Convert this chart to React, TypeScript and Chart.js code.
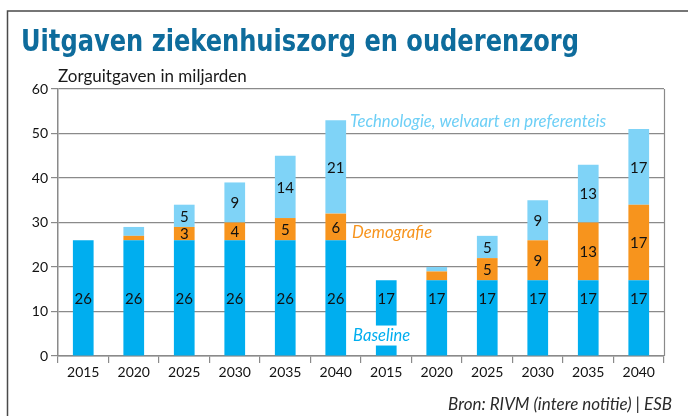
import React, { useEffect, useRef } from 'react';
import { Chart, registerables } from 'chart.js';

Chart.register(...registerables);

// ---- data ----
const categories = ['2015', '2020', '2025', '2030', '2035', '2040', '2015', '2020', '2025', '2030', '2035', '2040'];
const baseline = [26, 26, 26, 26, 26, 26, 17, 17, 17, 17, 17, 17];
const demografie = [0, 1, 3, 4, 5, 6, 0, 2, 5, 9, 13, 17];
const technologie = [0, 2, 5, 9, 14, 21, 0, 1, 5, 9, 13, 17];
const yTicks = [0, 10, 20, 30, 40, 50, 60];

const seriesNames = ['Baseline', 'Demografie', 'Technologie, welvaart en preferenteis'];
const TITLE = 'Uitgaven ziekenhuiszorg en ouderenzorg';
const SUBTITLE = 'Zorguitgaven in miljarden';
const SOURCE = 'Bron: RIVM (intere notitie) | ESB';

// ---- styles ----
const C_BASE = '#00AEEF';
const C_DEMO = '#F7941D';
const C_TECH = '#7FD3F7';
const C_TECH_TEXT = '#6DCFF6';
const C_TITLE = '#0E6C9C';
const GRID = '#8A8A8A';
const FONT = 'Lato, "Noto Sans", sans-serif';

const decorPlugin = {
  id: 'decor',
  afterDatasetsDraw(chart: any) {
    const ctx = chart.ctx as CanvasRenderingContext2D;
    const ys = chart.scales.y;
    ctx.save();
    ctx.font = `15px ${FONT}`;
    ctx.fillStyle = '#111';
    ctx.textAlign = 'center';
    ctx.textBaseline = 'middle';
    const baseMid = ys.getPixelForValue(Math.max(...baseline) / 2);
    chart.data.datasets.forEach((ds: any, di: number) => {
      const meta = chart.getDatasetMeta(di);
      meta.data.forEach((bar: any, i: number) => {
        const v = ds.data[i] as number;
        if (v < 3) return;
        const p = bar.getProps(['x', 'y', 'base'], true);
        const cy = di === 0 ? baseMid : (p.y + p.base) / 2;
        ctx.fillText(String(v), p.x, cy + 1);
      });
    });
    ctx.restore();
  },
  afterDraw(chart: any) {
    const ctx = chart.ctx as CanvasRenderingContext2D;
    const xs = chart.scales.x;
    const ys = chart.scales.y;
    const area = chart.chartArea;
    const W = chart.width;
    const H = chart.height;
    ctx.save();

    // outer frame (top + left)
    ctx.strokeStyle = '#4a4a4a';
    ctx.lineWidth = 1.5;
    ctx.beginPath();
    ctx.moveTo(W, 11);
    ctx.lineTo(7.5, 11);
    ctx.lineTo(7.5, H);
    ctx.stroke();

    // right border of plot area
    ctx.strokeStyle = GRID;
    ctx.lineWidth = 1.2;
    ctx.beginPath();
    ctx.moveTo(area.right + 0.5, area.top);
    ctx.lineTo(area.right + 0.5, area.bottom);
    ctx.stroke();

    // title
    ctx.fillStyle = C_TITLE;
    ctx.textAlign = 'left';
    ctx.textBaseline = 'alphabetic';
    ctx.font = `bold 30px "Liberation Sans Narrow", "DejaVu Sans Condensed", "DejaVu Sans", sans-serif`;
    ctx.fillText(TITLE, 21, 51, 558);

    // subtitle
    ctx.fillStyle = '#1a1a1a';
    ctx.font = `17px ${FONT}`;
    ctx.fillText(SUBTITLE, 58, 82, 193);

    // series annotations
    const meta0 = chart.getDatasetMeta(0);
    const b5 = meta0.data[5];
    const barW = b5.width;
    const annX = xs.getPixelForValue(5) + barW / 2 + 4;
    ctx.textBaseline = 'middle';
    ctx.font = `italic 17px ${FONT}`;

    ctx.fillStyle = C_TECH_TEXT;
    ctx.fillText(seriesNames[2], annX, ys.getPixelForValue(52.8), 256);

    ctx.fillStyle = C_DEMO;
    ctx.fillText(seriesNames[1], annX + 2, ys.getPixelForValue(27.7), 80);

    const by = ys.getPixelForValue(4.6);
    ctx.fillStyle = '#ffffff';
    ctx.fillRect(annX, by - 10, 62, 20);
    ctx.fillStyle = C_BASE;
    ctx.fillText(seriesNames[0], annX + 3, by, 57);

    // source
    ctx.fillStyle = '#2a2a2a';
    ctx.textAlign = 'right';
    ctx.font = `italic 17px ${FONT}`;
    ctx.fillText(SOURCE, 672, 405, 227);

    ctx.restore();
  },
};

export default function App() {
  const ref = useRef<HTMLCanvasElement>(null);
  useEffect(() => {
    const canvas = ref.current!;
    const chart = new Chart(canvas, {
      type: 'bar',
      data: {
        labels: categories,
        datasets: [
          { label: seriesNames[0], data: baseline, backgroundColor: C_BASE },
          { label: seriesNames[1], data: demografie, backgroundColor: C_DEMO },
          { label: seriesNames[2], data: technologie, backgroundColor: C_TECH },
        ],
      },
      options: {
        responsive: false,
        animation: false,
        events: [],
        layout: { padding: { top: 89, right: 24, left: 0, bottom: 0 } },
        plugins: { legend: { display: false }, tooltip: { enabled: false }, title: { display: false } },
        datasets: { bar: { categoryPercentage: 1, barPercentage: 0.41 } },
        scales: {
          x: {
            stacked: true,
            grid: { offset: true, drawOnChartArea: false, tickLength: 7, color: GRID, lineWidth: 1.2 },
            border: { color: GRID, width: 1.5 },
            ticks: { font: { family: FONT, size: 14 }, color: '#111', padding: 1, autoSkip: false, maxRotation: 0 },
            afterFit: (s: any) => { s.height = 60; },
          },
          y: {
            stacked: true,
            min: 0,
            max: 60,
            z: 1,
            afterBuildTicks: (s: any) => { s.ticks = yTicks.map((v) => ({ value: v })); },
            grid: { color: GRID, tickLength: 7, lineWidth: 1.2 },
            border: { color: GRID, width: 1.5 },
            ticks: { font: { family: FONT, size: 14 }, color: '#111', padding: 3 },
            afterFit: (s: any) => { s.width = 58; },
          },
        },
      },
      plugins: [decorPlugin],
    } as any);
    return () => chart.destroy();
  }, []);

  return (
    <div style={{ position: 'absolute', left: 0, top: 0, width: 688, height: 416, background: '#fff' }}>
      <canvas ref={ref} width={688} height={416} style={{ display: 'block', width: 688, height: 416 }} />
    </div>
  );
}
